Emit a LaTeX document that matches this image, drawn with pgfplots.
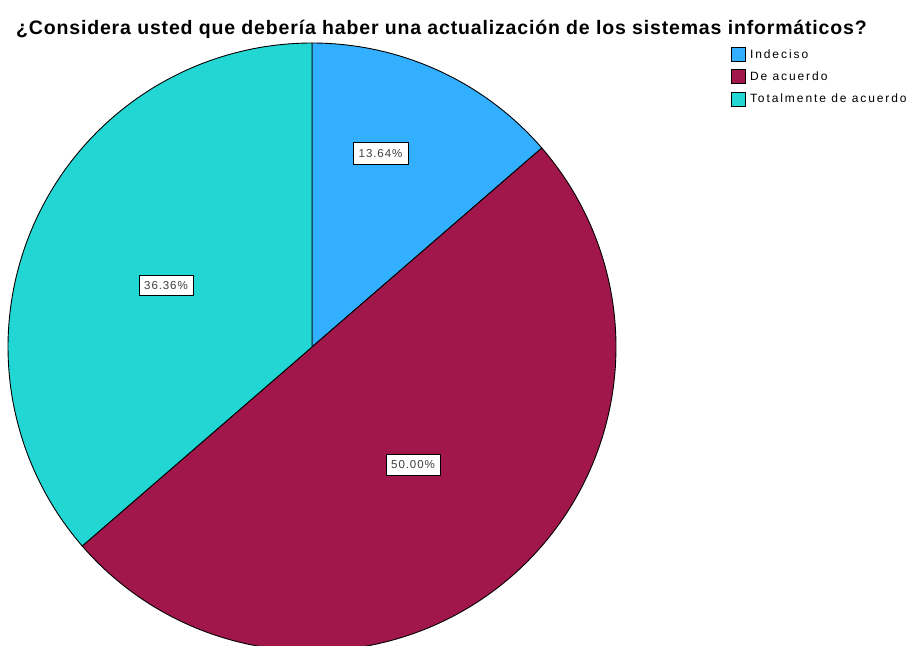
\documentclass[border=0pt]{standalone}
\usepackage{pgfplots}
\pgfplotsset{compat=1.18}
\usepackage{fontspec}
\setmainfont{Liberation Sans}
\newfontfamily\lblfont[LetterSpace=8]{Liberation Sans}
\newfontfamily\legfont[LetterSpace=16]{Liberation Sans}
\newfontfamily\titlefont[LetterSpace=4.3]{Liberation Sans}
\definecolor{cblue}{HTML}{33AFFF}
\definecolor{cmaroon}{HTML}{A1174C}
\definecolor{ccyan}{HTML}{22D6D4}
% percentages
\def\pA{13.64}
\def\pB{50.00}
\def\pC{36.36}
\pgfmathsetmacro\aA{90}
\pgfmathsetmacro\aB{90-3.6*\pA}
\pgfmathsetmacro\aC{\aB-3.6*\pB}
\pgfmathsetmacro\aD{\aC-3.6*\pC}
\begin{document}
\begin{tikzpicture}
\begin{axis}[
  width=912bp, height=646bp, scale only axis,
  xmin=0, xmax=912, ymin=0, ymax=646,
  hide axis, clip=true,
  legend style={draw=none, fill=none, at={(axis cs:731,599)}, anchor=north west,
    font=\legfont\fontsize{12bp}{14bp}\selectfont, row sep=7.5bp,
    inner sep=0pt, cells={anchor=west}},
  legend image code/.code={\draw[#1,draw=black,line width=0.8bp] (0bp,-7bp) rectangle (14bp,7bp); \path (16bp,0bp);},
]
\addplot[fill=cblue, draw=black, line width=0.9bp, domain=\aB:\aA, samples=60, variable=\t]
  ({312+304*cos(t)},{299+304*sin(t)}) -- (axis cs:312,299) -- cycle;
\addlegendentry{Indeciso}
\addplot[fill=cmaroon, draw=black, line width=0.9bp, domain=\aC:\aB, samples=150, variable=\t]
  ({312+304*cos(t)},{299+304*sin(t)}) -- (axis cs:312,299) -- cycle;
\addlegendentry{De acuerdo}
\addplot[fill=ccyan, draw=black, line width=0.9bp, domain=\aD:\aC, samples=120, variable=\t]
  ({312+304*cos(t)},{299+304*sin(t)}) -- (axis cs:312,299) -- cycle;
\addlegendentry{Totalmente de acuerdo}
\node[draw=black, line width=1bp, fill=white, inner sep=0pt, minimum width=55bp, minimum height=22bp,
  font=\lblfont\fontsize{11.5bp}{13bp}\selectfont, text=black!75] at (axis cs:380.5,492.5) {13.64\%};
\node[draw=black, line width=1bp, fill=white, inner sep=0pt, minimum width=54bp, minimum height=20bp,
  font=\lblfont\fontsize{11.5bp}{13bp}\selectfont, text=black!75] at (axis cs:166,360) {36.36\%};
\node[draw=black, line width=1bp, fill=white, inner sep=0pt, minimum width=54bp, minimum height=21bp,
  font=\lblfont\fontsize{11.5bp}{13bp}\selectfont, text=black!75] at (axis cs:413,181) {50.00\%};
\node[anchor=base west, inner sep=0pt, font=\titlefont\bfseries\fontsize{19.5bp}{22bp}\selectfont]
  at (axis cs:16,611) {¿Considera usted que debería haber una actualización de los sistemas informáticos?};
\end{axis}
\pgfresetboundingbox
\path (current axis.south west) rectangle (current axis.north east);
\end{tikzpicture}
\end{document}
